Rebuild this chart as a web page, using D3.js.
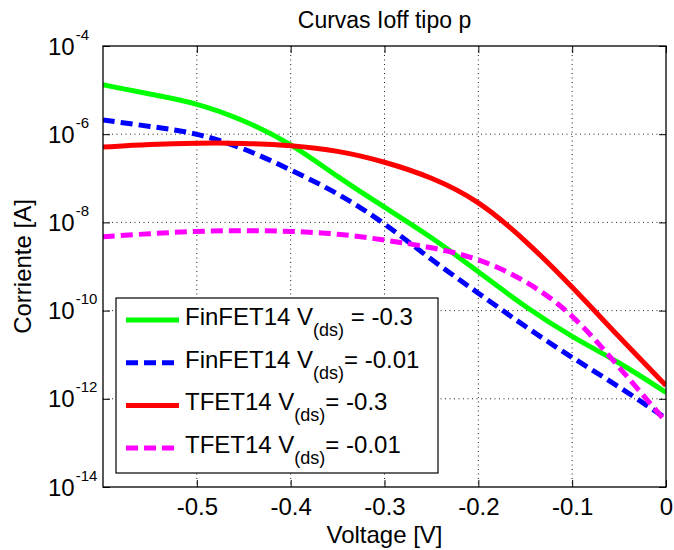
<!DOCTYPE html>
<html>
<head>
<meta charset="utf-8">
<script src="https://cdn.jsdelivr.net/npm/d3@7"></script>
<style>
body{margin:0;background:#fff;}
svg{font-family:"Liberation Sans",Arial,sans-serif;}
</style>
</head>
<body>
<svg id="chart" width="674" height="550"></svg>
<script>
// gate voltage (x axis)
var voltage = [-0.6, -0.55, -0.5, -0.45, -0.4, -0.35, -0.3, -0.25, -0.2, -0.15, -0.1, -0.05, 0];
// off currents [A]
var finfet03 = [1.32e-5, 8.1e-6, 5.1e-6, 2.1e-6, 6.3e-7, 1.07e-7, 2.2e-8, 4.7e-9, 7.6e-10, 1.2e-10, 2.5e-11, 6.8e-12, 1.4e-12];
var finfet001 = [2.1e-6, 1.5e-6, 1.07e-6, 4.9e-7, 1.55e-7, 4.7e-8, 9.8e-9, 1.4e-9, 2.5e-10, 4.3e-11, 8.5e-12, 1.9e-12, 3.6e-13];
var tfet03 = [5.1e-7, 5.9e-7, 6.3e-7, 6.3e-7, 5.6e-7, 4.3e-7, 2.4e-7, 1.07e-7, 3.2e-8, 4.0e-9, 3.5e-10, 2.5e-11, 2.0e-12];
var tfet001 = [4.7e-9, 5.6e-9, 6.3e-9, 6.6e-9, 6.3e-9, 5.6e-9, 4.0e-9, 2.75e-9, 1.55e-9, 5.0e-10, 8.9e-11, 5.2e-12, 3.0e-13];

var xTicks = [-0.5, -0.4, -0.3, -0.2, -0.1, 0];
var xTickLabels = ["-0.5", "-0.4", "-0.3", "-0.2", "-0.1", "0"];
var yTicks = [1e-4, 1e-6, 1e-8, 1e-10, 1e-12, 1e-14];
var yTickExp = ["-4", "-6", "-8", "-10", "-12", "-14"];

var legendBase = ["FinFET14 V", "FinFET14 V", "TFET14 V", "TFET14 V"];
var legendTail = [" = -0.3", "= -0.01", "= -0.3", "= -0.01"];
var seriesColors = ["#00ff00", "#0000ff", "#ff0000", "#ff00ff"];
var seriesDash = [null, "12,6", null, "12,6"];
var series = [finfet03, finfet001, tfet03, tfet001];

var svg = d3.select("#chart");
var margin = {top: 46, right: 8, bottom: 63, left: 103};
var width = 674 - margin.left - margin.right;
var height = 550 - margin.top - margin.bottom;
var g = svg.append("g").attr("transform", "translate(" + margin.left + "," + margin.top + ")");

var x = d3.scaleLinear().domain([-0.6, 0]).range([0, width]);
var y = d3.scaleLog().domain([1e-14, 1e-4]).range([height, 0]);

svg.append("defs").append("clipPath").attr("id", "plotclip")
  .append("rect").attr("width", width).attr("height", height);

// dotted grid
g.append("g").selectAll("line")
  .data(xTicks.filter(function(d) { return d !== 0; }))
  .enter().append("line")
  .attr("x1", function(d) { return x(d); }).attr("x2", function(d) { return x(d); })
  .attr("y1", 0).attr("y2", height)
  .attr("stroke", "#222").attr("stroke-width", 1).attr("stroke-dasharray", "1,3.5");

g.append("g").selectAll("line")
  .data(yTicks.slice(1, 5))
  .enter().append("line")
  .attr("y1", function(d) { return y(d); }).attr("y2", function(d) { return y(d); })
  .attr("x1", 0).attr("x2", width)
  .attr("stroke", "#222").attr("stroke-width", 1).attr("stroke-dasharray", "1,3.5");

// curves
var line = d3.line()
  .x(function(d, i) { return x(voltage[i]); })
  .y(function(d) { return y(d); })
  .curve(d3.curveBasis);

g.append("g").attr("clip-path", "url(#plotclip)")
  .selectAll("path")
  .data(series)
  .enter().append("path")
  .attr("d", line)
  .attr("fill", "none")
  .attr("stroke", function(d, i) { return seriesColors[i]; })
  .attr("stroke-width", 5)
  .attr("stroke-dasharray", function(d, i) { return seriesDash[i]; });

// axes (ticks point inward, box on all sides)
var xAxis = g.append("g")
  .attr("transform", "translate(0," + height + ")")
  .call(d3.axisBottom(x).tickValues(xTicks)
    .tickFormat(function(d, i) { return xTickLabels[i]; })
    .tickSizeInner(-7).tickSizeOuter(0).tickPadding(11));
xAxis.select(".domain").remove();
xAxis.selectAll("text").attr("font-size", 24).attr("font-family", "'Liberation Sans',Arial,sans-serif").attr("fill", "#000");

g.append("g").call(d3.axisTop(x).tickValues(xTicks).tickFormat("").tickSizeInner(-7).tickSizeOuter(0))
  .select(".domain").remove();

var yAxis = g.append("g")
  .call(d3.axisLeft(y).tickValues(yTicks).tickFormat("").tickSizeInner(-7).tickSizeOuter(0));
yAxis.select(".domain").remove();

g.append("g").attr("transform", "translate(" + width + ",0)")
  .call(d3.axisRight(y).tickValues(yTicks).tickFormat("").tickSizeInner(-7).tickSizeOuter(0))
  .select(".domain").remove();

// y tick labels as 10^n
var ylab = g.append("g").selectAll("text")
  .data(yTicks)
  .enter().append("text")
  .attr("x", -55)
  .attr("y", function(d) { return y(d); })
  .attr("dy", "0.36em")
  .attr("font-size", 24)
  .attr("fill", "#000");
ylab.append("tspan").text("10");
ylab.append("tspan").attr("font-size", 15).attr("dx", 1).attr("dy", -15)
  .text(function(d, i) { return yTickExp[i]; });

g.append("rect")
  .attr("width", width).attr("height", height)
  .attr("fill", "none").attr("stroke", "#000").attr("stroke-width", 1.3);

// titles
svg.append("text")
  .attr("x", margin.left + width / 2).attr("y", 28)
  .attr("text-anchor", "middle").attr("font-size", 23)
  .text("Curvas Ioff tipo p");

svg.append("text")
  .attr("x", margin.left + width / 2).attr("y", 543)
  .attr("text-anchor", "middle").attr("font-size", 24)
  .text("Voltage [V]");

svg.append("text")
  .attr("transform", "translate(31," + (margin.top + height / 2) + ") rotate(-90)")
  .attr("text-anchor", "middle").attr("font-size", 24)
  .text("Corriente [A]");

// legend
var legend = svg.append("g").attr("transform", "translate(116,298)");
legend.append("rect")
  .attr("width", 322).attr("height", 175)
  .attr("fill", "#fff").attr("stroke", "#000").attr("stroke-width", 1.2);

var rows = legend.selectAll("g.row")
  .data(series)
  .enter().append("g")
  .attr("class", "row")
  .attr("transform", function(d, i) { return "translate(0," + (22 + i * 42.7) + ")"; });

rows.append("line")
  .attr("x1", 10).attr("x2", 63)
  .attr("stroke", function(d, i) { return seriesColors[i]; })
  .attr("stroke-width", 5)
  .attr("stroke-dasharray", function(d, i) { return seriesDash[i]; });

var lt = rows.append("text")
  .attr("x", 69).attr("y", 5)
  .attr("font-size", 24)
  .style("white-space", "pre");
lt.append("tspan").text(function(d, i) { return legendBase[i]; });
lt.append("tspan").attr("font-size", 18).attr("dy", 11).text("(ds)");
lt.append("tspan").attr("dy", -11).text(function(d, i) { return legendTail[i]; });
</script>
</body>
</html>
